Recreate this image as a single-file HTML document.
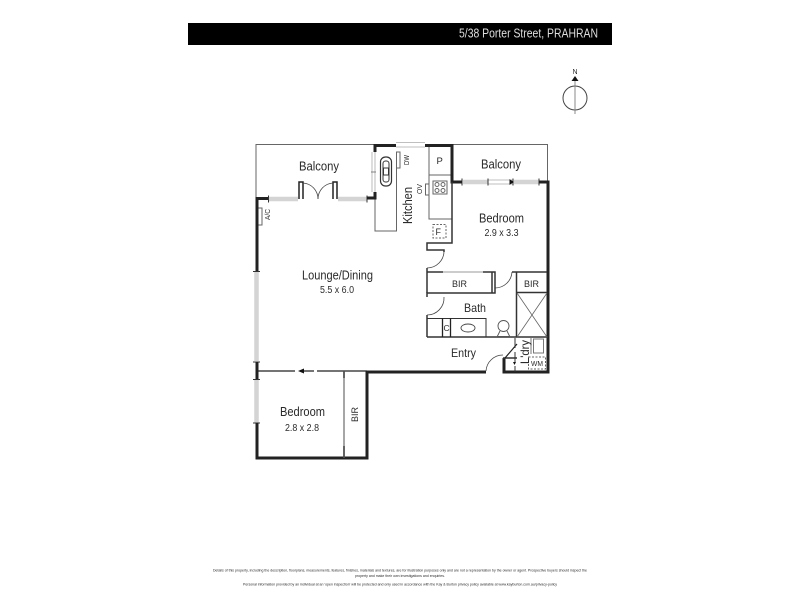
<!DOCTYPE html>
<html><head><meta charset="utf-8"><style>
html,body{margin:0;padding:0;background:#fff}
svg{display:block;filter:blur(0.35px)}
text{font-family:"Liberation Sans",sans-serif;fill:#2a2a2a}
</style></head><body>
<svg width="800" height="600" viewBox="0 0 800 600" xmlns="http://www.w3.org/2000/svg">
<rect x="188" y="23" width="424" height="22" fill="#000"/>
<text x="459" y="37.500" font-size="12.500" style="fill:#ddd" textLength="139" lengthAdjust="spacingAndGlyphs">5/38 Porter Street, PRAHRAN</text>

<!-- compass -->
<text x="575" y="74" font-size="7" text-anchor="middle">N</text>
<path d="M571.500 81 L575 76 L578.500 81Z" fill="#111"/>
<circle cx="575" cy="98" r="12" fill="none" stroke="#444" stroke-width="1"/>
<path d="M575 81V114" stroke="#888" stroke-width="1"/>

<!-- thin outlines -->
<g fill="none" stroke="#666" stroke-width="1">
<path d="M256 198V144.500H374"/>
<path d="M452 144.500H547.500V182"/>
<path d="M375 198V231H396.500V152"/>
<path d="M429 145V219H452"/>
<path d="M429 175H452"/>
<rect x="396.500" y="152" width="3.500" height="16"/>
<rect x="425.500" y="184" width="3.500" height="11"/>
<rect x="433" y="181" width="14" height="13"/>
<circle cx="437" cy="184.500" r="2"/><circle cx="443" cy="184.500" r="2"/>
<circle cx="437" cy="190.500" r="2"/><circle cx="443" cy="190.500" r="2"/>
<rect x="380.500" y="157" width="11" height="29" rx="5" stroke="#333" stroke-width="1.200"/>
<rect x="383" y="161" width="6" height="21" rx="2.500" stroke="#333"/>
<rect x="383.500" y="168" width="5" height="7" fill="#fff" stroke="#333"/>
<rect x="258" y="208" width="4" height="17"/>
</g>
<!-- top window -->
<path d="M396 142.500H425M396 147H425" stroke="#aaa" stroke-width="0.800" fill="none"/>
<!-- balcony side window -->
<path d="M372 152V192M375 152V192" stroke="#aaa" stroke-width="0.800" fill="none"/>
<path d="M371 172H376" stroke="#666" stroke-width="0.800"/>
<!-- glazing -->
<g stroke="#d4d4d4" stroke-width="4.500" fill="none">
<path d="M269 199H298M338 199H367"/>
<path d="M463 182H488M514 182H539"/>
<path d="M256.500 272V361M256.500 380V423"/>
</g>
<path d="M488 180H513M488 184H513" stroke="#aaa" stroke-width="0.800"/>
<path d="M268.500 195.500V202.500M367 195.500V202.500M462 178.500V185.500M488 178.500V185.500M513 178.500V185.500M539 178.500V185.500M253 271.500H260M253 362H260M253 379.500H260M253 423H260" stroke="#333" stroke-width="1"/>
<path d="M510 180L513 182L510 184Z" fill="#111" stroke="#111"/>

<!-- thick walls -->
<g fill="none" stroke="#222" stroke-width="3">
<path d="M257 271V198.500H268"/>
<path d="M367 198H375V192"/>
<path d="M375 152V145.500H396"/>
<path d="M425 145.500H452V182H462"/>
<path d="M539 182H548V372H504V358"/>
<path d="M257 362V379"/>
<path d="M257 423V458H367V372H486"/>
</g>
<rect x="256" y="208" width="2.500" height="17" fill="#222"/>
<!-- door jambs -->
<g fill="none" stroke="#222" stroke-width="1.500">
<path d="M299 199V182H303V199"/>
<path d="M333 199V182H337V199"/>
</g>
<g fill="none" stroke="#444" stroke-width="0.800">
<path d="M303 183A16 16 0 0 1 318 199"/>
<path d="M333 183A16 16 0 0 0 318 199"/>
<path d="M444 251A17 17 0 0 1 427 268"/>
<path d="M495 288A17 17 0 0 0 512 272"/>
<path d="M444 297A17 17 0 0 1 427 315"/>
<path d="M486 371A17 17 0 0 1 503 355"/>
</g>

<!-- internal walls -->
<g fill="none" stroke="#333" stroke-width="1.500">
<path d="M452 182V243H427V250H444V252"/>
<path d="M427 268V293"/>
<path d="M427 272H443"/>
<path d="M483 272H495V293H427V297"/>
<path d="M427 315V337"/>
<path d="M492 272V293"/>
<path d="M512 272H547"/>
<path d="M516.500 272V337"/>
<path d="M516 292.500H547"/>
<path d="M427 337H548"/>
<path d="M503 358H517"/>
</g>
<path d="M443 272H483" stroke="#999" stroke-width="1"/>
<path d="M427 318.500H486V337" fill="none" stroke="#333" stroke-width="1"/>
<path d="M442.500 318V337M450.500 318V337" stroke="#222" stroke-width="1.300"/>
<path d="M517 293L547 337M547 293L517 337" stroke="#666" stroke-width="0.800"/>
<ellipse cx="468" cy="328" rx="7" ry="4" fill="none" stroke="#444" stroke-width="0.900"/>
<!-- toilet -->
<g fill="none" stroke="#555" stroke-width="0.900">
<ellipse cx="503.500" cy="326" rx="5.500" ry="5.500"/>
<path d="M497 337L500 331M510 337L507 331M497 336.500H510"/>
</g>
<!-- laundry -->
<path d="M505 358L517 344" stroke="#222" stroke-width="1.200"/>
<path d="M515 338V372" stroke="#333" stroke-width="1" stroke-dasharray="10 4"/>
<path d="M531 338V354" stroke="#555" stroke-width="0.800"/>
<rect x="533.500" y="339" width="10" height="14" fill="none" stroke="#777" stroke-width="1"/>
<rect x="528.500" y="357" width="17" height="12" fill="none" stroke="#666" stroke-width="1" stroke-dasharray="2 1.500"/>
<path d="M513 362L516 362L514.500 365Z" fill="#111"/>
<rect x="433" y="224.500" width="13" height="13.500" fill="none" stroke="#666" stroke-width="1" stroke-dasharray="2 1.500"/>
<!-- bedroom 2 wall/door -->
<path d="M256 371H295M302 371H314M317 371H367" stroke="#222" stroke-width="1.300" fill="none"/>
<path d="M298 371L304 368.500V373.500Z" fill="#111"/>
<path d="M344 371V458" stroke="#888" stroke-width="1.500"/>
<path d="M344 371V378M344 446V458" stroke="#444" stroke-width="1.500"/>

<!-- labels -->
<g>
<text x="299" y="170.500" font-size="12.500" textLength="40" lengthAdjust="spacingAndGlyphs">Balcony</text>
<text x="481" y="168.500" font-size="12.500" textLength="40" lengthAdjust="spacingAndGlyphs">Balcony</text>
<text x="479" y="222.500" font-size="12.500" textLength="45" lengthAdjust="spacingAndGlyphs">Bedroom</text>
<text x="484.500" y="236" font-size="10" textLength="34" lengthAdjust="spacingAndGlyphs">2.9 x 3.3</text>
<text x="302" y="279.500" font-size="12.500" textLength="71" lengthAdjust="spacingAndGlyphs">Lounge/Dining</text>
<text x="320" y="293" font-size="10" textLength="34" lengthAdjust="spacingAndGlyphs">5.5 x 6.0</text>
<text x="280" y="416" font-size="12.500" textLength="45" lengthAdjust="spacingAndGlyphs">Bedroom</text>
<text x="285" y="431" font-size="10" textLength="34" lengthAdjust="spacingAndGlyphs">2.8 x 2.8</text>
<text x="451" y="357" font-size="12" textLength="25" lengthAdjust="spacingAndGlyphs">Entry</text>
<text x="464" y="312" font-size="12" textLength="22" lengthAdjust="spacingAndGlyphs">Bath</text>
<text x="452" y="287" font-size="9" textLength="15" lengthAdjust="spacingAndGlyphs">BIR</text>
<text x="524" y="287" font-size="9" textLength="15" lengthAdjust="spacingAndGlyphs">BIR</text>
<text x="435.500" y="235" font-size="9">F</text>
<text x="436.500" y="164" font-size="9.500">P</text>
<text x="443.500" y="331" font-size="8.500">C</text>
<text x="531" y="366" font-size="7" textLength="12" lengthAdjust="spacingAndGlyphs">WM</text>
<text transform="translate(412 224) rotate(-90)" font-size="12.500" textLength="37" lengthAdjust="spacingAndGlyphs">Kitchen</text>
<text transform="translate(409 165) rotate(-90)" font-size="7" textLength="10" lengthAdjust="spacingAndGlyphs">DW</text>
<text transform="translate(422 194) rotate(-90)" font-size="7" textLength="10" lengthAdjust="spacingAndGlyphs">OV</text>
<text transform="translate(270 220) rotate(-90)" font-size="7" textLength="11" lengthAdjust="spacingAndGlyphs">A/C</text>
<text transform="translate(358 422) rotate(-90)" font-size="9" textLength="15" lengthAdjust="spacingAndGlyphs">BIR</text>
<text transform="translate(529 364) rotate(-90)" font-size="12" textLength="24" lengthAdjust="spacingAndGlyphs">L'dry</text>
</g>

<!-- footer -->
<g>
<text x="213" y="571.500" font-size="3.600" textLength="374" lengthAdjust="spacingAndGlyphs">Details of this property, including the description, floorplans, measurements, features, finishes, materials and textures, are for illustration purposes only and are not a representation by the owner or agent. Prospective buyers should inspect the</text>
<text x="355" y="577" font-size="3.600" textLength="90" lengthAdjust="spacingAndGlyphs">property and make their own investigations and enquiries.</text>
<text x="243" y="585.500" font-size="3.600" textLength="314" lengthAdjust="spacingAndGlyphs">Personal information provided by an individual at an 'open inspection' will be protected and only used in accordance with the Kay &amp; Burton privacy policy available at www.kayburton.com.au/privacy-policy</text>
</g>
</svg>
</body></html>
